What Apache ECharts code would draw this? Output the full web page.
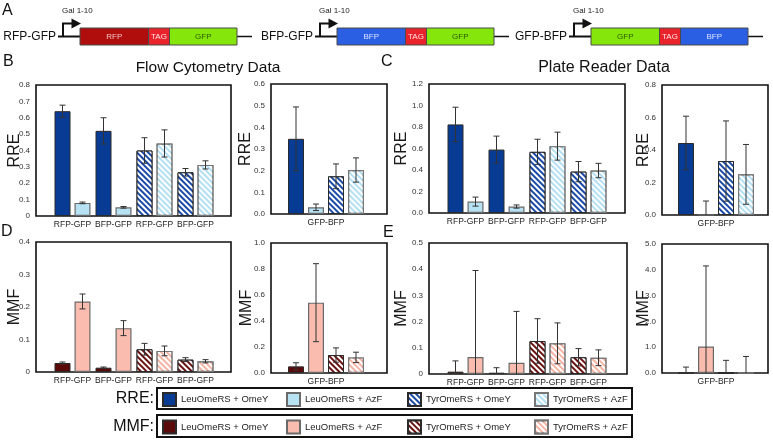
<!DOCTYPE html>
<html><head><meta charset="utf-8">
<script src="https://cdn.jsdelivr.net/npm/echarts@6/dist/echarts.min.js"></script>
<style>html,body{margin:0;padding:0;background:#fff}#c{width:773px;height:440px}</style>
</head><body><div id="c"></div>
<script>
// ---------- categories / names ----------
const groupCats = ['RFP-GFP', 'BFP-GFP', 'RFP-GFP', 'BFP-GFP'];
const singleCats = ['GFP-BFP'];
const seriesNames = ['LeuOmeRS + OmeY', 'LeuOmeRS + AzF', 'TyrOmeRS + OmeY', 'TyrOmeRS + AzF'];

// ---------- data: rows = series, cols = [RFP-GFP, BFP-GFP] ----------
const flowRreVal = [[0.64, 0.52], [0.08, 0.053], [0.40, 0.267], [0.443, 0.312]];
const flowRreErr = [[0.037, 0.08], [0.005, 0.005], [0.078, 0.023], [0.083, 0.025]];
const flowRreGBVal = [0.347, 0.031, 0.174, 0.203];
const flowRreGBErr = [0.147, 0.015, 0.057, 0.056];

const plateRreVal = [[0.824, 0.59], [0.106, 0.06], [0.569, 0.385], [0.622, 0.395]];
const plateRreErr = [[0.16, 0.125], [0.042, 0.015], [0.117, 0.094], [0.13, 0.067]];
const plateRreGBVal = [0.443, 0.0, 0.332, 0.25];
const plateRreGBErr = [0.165, 0.086, 0.247, 0.184];

const flowMmfVal = [[0.0277, 0.0133], [0.217, 0.135], [0.07, 0.038], [0.065, 0.033]];
const flowMmfErr = [[0.003, 0.002], [0.023, 0.023], [0.018, 0.006], [0.015, 0.005]];
const flowMmfGBVal = [0.051, 0.541, 0.138, 0.12];
const flowMmfGBErr = [0.028, 0.3, 0.055, 0.04];

const plateMmfVal = [[0.009, 0.005], [0.065, 0.043], [0.126, 0.064], [0.117, 0.062]];
const plateMmfErr = [[0.041, 0.019], [0.33, 0.196], [0.085, 0.033], [0.078, 0.03]];
const plateMmfGBVal = [0.0, 1.03, 0.0, 0.0];
const plateMmfGBErr = [0.23, 3.12, 0.49, 0.64];

// axis [max, interval]
const flowRreAxis = [0.8, 0.1], flowRreGBAxis = [0.6, 0.1];
const plateRreAxis = [1.2, 0.2], plateRreGBAxis = [0.8, 0.2];
const flowMmfAxis = [0.4, 0.1], flowMmfGBAxis = [1.0, 0.2];
const plateMmfAxis = [0.5, 0.1], plateMmfGBAxis = [5, 1];

// ---------- styles ----------
const FONT = 'Liberation Sans, Arial, sans-serif';
const hatch = { symbol: 'rect', symbolSize: 1, dashArrayX: [1, 0], dashArrayY: [2, 1.6], rotation: Math.PI / 4, color: '#ffffff' };
const styles = {
  rre: [
    { color: '#083b93', borderColor: '#2a2a2a', borderWidth: 1 },
    { color: '#b6e2f3', borderColor: '#6a6a6a', borderWidth: 1.2 },
    { color: '#1a4aa6', borderColor: '#2a2a2a', borderWidth: 1, decal: hatch },
    { color: '#b3e0f3', borderColor: '#777', borderWidth: 1.2, decal: hatch }
  ],
  mmf: [
    { color: '#5b0a0a', borderColor: '#2a2a2a', borderWidth: 1 },
    { color: '#f9bcae', borderColor: '#6a6a6a', borderWidth: 1.2 },
    { color: '#6a1212', borderColor: '#2a2a2a', borderWidth: 1, decal: hatch },
    { color: '#f6b4a4', borderColor: '#777', borderWidth: 1.2, decal: hatch }
  ]
};

// ---------- panel layout ----------
const panels = [
  { frame: [36, 85, 195, 131], dataX: [52, 164], cats: groupCats, vals: flowRreVal, errs: flowRreErr, axis: flowRreAxis, plainZero: true, kind: 'rre', name: 'RRE', nameGap: 13 },
  { frame: [271, 84, 116, 130], dataX: [271, 110], cats: singleCats, vals: flowRreGBVal, errs: flowRreGBErr, axis: flowRreGBAxis, plainZero: false, kind: 'rre', name: 'RRE', nameGap: 17 },
  { frame: [429, 84, 196, 129], dataX: [445, 164], cats: groupCats, vals: plateRreVal, errs: plateRreErr, axis: plateRreAxis, plainZero: false, kind: 'rre', name: 'RRE', nameGap: 19 },
  { frame: [662, 85, 106, 130], dataX: [663, 106], cats: singleCats, vals: plateRreGBVal, errs: plateRreGBErr, axis: plateRreGBAxis, plainZero: false, kind: 'rre', name: 'RRE', nameGap: 10 },
  { frame: [36, 242, 195, 130], dataX: [52, 164], cats: groupCats, vals: flowMmfVal, errs: flowMmfErr, axis: flowMmfAxis, plainZero: true, kind: 'mmf', name: 'MMF', nameGap: 13 },
  { frame: [271, 243, 116, 130], dataX: [271, 110], cats: singleCats, vals: flowMmfGBVal, errs: flowMmfGBErr, axis: flowMmfGBAxis, plainZero: false, kind: 'mmf', name: 'MMF', nameGap: 16 },
  { frame: [429, 243, 198, 131], dataX: [445, 164], cats: groupCats, vals: plateMmfVal, errs: plateMmfErr, axis: plateMmfAxis, plainZero: true, kind: 'mmf', name: 'MMF', nameGap: 19 },
  { frame: [662, 244, 106, 129], dataX: [663, 106], cats: singleCats, vals: plateMmfGBVal, errs: plateMmfGBErr, axis: plateMmfGBAxis, plainZero: false, kind: 'mmf', name: 'MMF', nameGap: 10 }
];

const BAR_W = 16, BAR_GAP = 4;

const grid = [], xAxis = [], yAxis = [], series = [];

function renderErr(params, api) {
  const x = api.value(0), v = api.value(1), e = api.value(2), off = api.value(3);
  const top = api.coord([x, v + e]);
  const lo = v - e;
  const bot = api.coord([x, Math.max(0, lo)]);
  const cx = top[0] + off, cap = 3;
  const st = { stroke: '#333', lineWidth: 1 };
  const ch = [
    { type: 'line', shape: { x1: cx, y1: top[1], x2: cx, y2: bot[1] }, style: st },
    { type: 'line', shape: { x1: cx - cap, y1: top[1], x2: cx + cap, y2: top[1] }, style: st }
  ];
  if (lo > 0) ch.push({ type: 'line', shape: { x1: cx - cap, y1: bot[1], x2: cx + cap, y2: bot[1] }, style: st });
  return { type: 'group', children: ch };
}

panels.forEach((p, pi) => {
  const fg = 2 * pi, dg = 2 * pi + 1;
  const [fl, ft, fw, fh] = p.frame;
  grid.push({ left: fl, top: ft, width: fw, height: fh, show: true, borderColor: '#111', borderWidth: 1.6, backgroundColor: '#fff', outerBoundsMode: 'none', containLabel: false });
  grid.push({ left: p.dataX[0], top: ft, width: p.dataX[1], height: fh, show: false, outerBoundsMode: 'none', containLabel: false });
  xAxis.push({ gridIndex: fg, type: 'value', show: false, min: 0, max: 1 });
  yAxis.push({
    gridIndex: fg, type: 'value', min: 0, max: p.axis[0], interval: p.axis[1],
    axisLine: { show: false }, axisTick: { show: false }, splitLine: { show: false },
    axisLabel: { fontSize: 8, color: '#333', margin: 6, fontFamily: FONT,
      formatter: v => (p.plainZero && Math.abs(v) < 1e-9) ? '0' : v.toFixed(1) },
    name: p.name, nameLocation: 'middle', nameGap: p.nameGap, nameRotate: 90, nameMoveOverlap: false,
    nameTextStyle: { fontSize: 16, color: '#1a1a1a', fontFamily: FONT }
  });
  xAxis.push({
    gridIndex: dg, type: 'category', data: p.cats,
    axisLine: { show: false }, axisTick: { show: false },
    axisLabel: { fontSize: 8.5, color: '#222', margin: 4, interval: 0, fontFamily: FONT }
  });
  yAxis.push({ gridIndex: dg, type: 'value', min: 0, max: p.axis[0], show: false });

  const grouped = p.cats.length === 4;
  const nameOf = s => p.kind === 'mmf' ? seriesNames[s] + ' ' : seriesNames[s];
  const errData = [];
  for (let s = 0; s < 4; s++) {
    let data, stack;
    if (grouped) {
      data = [null, null, null, null];
      const base = s >= 2 ? 2 : 0;
      data[base] = p.vals[s][0];
      data[base + 1] = p.vals[s][1];
      stack = (s % 2 === 0 ? 'dark' : 'light') + pi;
      const col = s % 2;
      const off = (col - 0.5) * (BAR_W + BAR_GAP);
      errData.push([base, p.vals[s][0], p.errs[s][0], off]);
      errData.push([base + 1, p.vals[s][1], p.errs[s][1], off]);
    } else {
      data = [p.vals[s]];
      const off = (s - 1.5) * (BAR_W + BAR_GAP);
      errData.push([0, p.vals[s], p.errs[s], off]);
    }
    const ser = {
      type: 'bar', name: nameOf(s), xAxisIndex: dg, yAxisIndex: dg, data,
      barWidth: BAR_W, barGap: '25%', itemStyle: Object.assign({}, styles[p.kind][s]),
      silent: true, z: 2
    };
    if (stack) ser.stack = stack;
    series.push(ser);
  }
  series.push({
    type: 'custom', xAxisIndex: dg, yAxisIndex: dg, data: errData, renderItem: renderErr,
    encode: { x: 0, y: 1 }, z: 5, silent: true, clip: false
  });
});

// ---------- panel A: constructs ----------
const constructs = [
  { label: 'RFP-GFP', parts: ['RFP', 'TAG', 'GFP'], left: 80 },
  { label: 'BFP-GFP', parts: ['BFP', 'TAG', 'GFP'], left: 337 },
  { label: 'GFP-BFP', parts: ['GFP', 'TAG', 'BFP'], left: 591 }
];
const partW = [68.5, 21, 67.5];
const partColor = { RFP: '#b00d0d', TAG: '#e8232b', GFP: '#84e60a', BFP: '#2b5fe3' };
const partText = { RFP: '#f4c0c0', TAG: '#ffe4e4', GFP: '#2d5a00', BFP: '#dbe3ff' };

const graphic = [];
const cy = 36.5;
constructs.forEach(c => {
  const L = c.left;
  graphic.push({ type: 'text', x: L - 24, y: cy, style: { text: c.label, fill: '#111', font: '12px ' + FONT, align: 'right', verticalAlign: 'middle' } });
  graphic.push({ type: 'line', shape: { x1: L - 22, y1: cy, x2: L, y2: cy }, style: { stroke: '#111', lineWidth: 2 } });
  graphic.push({ type: 'polyline', shape: { points: [[L - 17, cy], [L - 17, 23.5], [L - 8, 23.5]] }, style: { stroke: '#111', lineWidth: 2, fill: null } });
  graphic.push({ type: 'polygon', shape: { points: [[L - 8.5, 18.5], [L + 1, 23.5], [L - 8.5, 28.5]] }, style: { fill: '#111' } });
  graphic.push({ type: 'text', x: L - 18, y: 10.5, style: { text: 'Gal 1-10', fill: '#222', font: '8px ' + FONT, align: 'left', verticalAlign: 'middle' } });
  let x = L;
  c.parts.forEach((pt, i) => {
    graphic.push({ type: 'rect', shape: { x: x, y: 28, width: partW[i], height: 17 }, style: { fill: partColor[pt], stroke: '#4a4a4a', lineWidth: 1 }, z: 1 });
    graphic.push({ type: 'text', x: x + partW[i] / 2, y: 36.8, style: { text: pt, fill: partText[pt], font: '8px ' + FONT, align: 'center', verticalAlign: 'middle' }, z: 2 });
    x += partW[i];
  });
  graphic.push({ type: 'line', shape: { x1: x, y1: cy, x2: x + 15, y2: cy }, style: { stroke: '#111', lineWidth: 1.5 } });
});

const letters = [['A', 2, 11], ['B', 3, 62], ['C', 381, 62], ['D', 1, 231.5], ['E', 383, 233]];
letters.forEach(l => graphic.push({ type: 'text', x: l[1], y: l[2], style: { text: l[0], fill: '#111', font: '16px ' + FONT, align: 'left', verticalAlign: 'middle' } }));
graphic.push({ type: 'text', x: 208, y: 68, style: { text: 'Flow Cytometry Data', fill: '#111', font: '15.5px ' + FONT, align: 'center', verticalAlign: 'middle' } });
graphic.push({ type: 'text', x: 604, y: 68, style: { text: 'Plate Reader Data', fill: '#111', font: '16px ' + FONT, align: 'center', verticalAlign: 'middle' } });
graphic.push({ type: 'text', x: 154, y: 399, style: { text: 'RRE:', fill: '#111', font: '16px ' + FONT, align: 'right', verticalAlign: 'middle' } });
graphic.push({ type: 'text', x: 154, y: 426.5, style: { text: 'MMF:', fill: '#111', font: '16px ' + FONT, align: 'right', verticalAlign: 'middle' } });

// legend frames (layout only)
graphic.push({ type: 'rect', shape: { x: 157, y: 388, width: 475, height: 21 }, style: { fill: null, stroke: '#111', lineWidth: 2 } });
graphic.push({ type: 'rect', shape: { x: 157, y: 415, width: 475, height: 22 }, style: { fill: null, stroke: '#111', lineWidth: 2 } });

// one legend component per item so the items sit at fixed slots
const legendSlots = [162, 286, 407, 534];
const legend = [];
['rre', 'mmf'].forEach((kind, ki) => {
  seriesNames.forEach((n, i) => {
    legend.push({
      show: true, left: legendSlots[i], top: ki === 0 ? 392 : 419.5, orient: 'horizontal', icon: 'rect',
      itemWidth: 13, itemHeight: 13, itemGap: 5, padding: 0, selectedMode: false,
      textStyle: { fontSize: 9.5, color: '#222', fontFamily: FONT },
      formatter: t => t.trim(),
      data: [kind === 'mmf' ? n + ' ' : n]
    });
  });
});

const chart = echarts.init(document.getElementById('c'), null, { renderer: 'canvas' });
chart.setOption({
  animation: false,
  backgroundColor: '#fff',
  textStyle: { fontFamily: FONT },
  grid, xAxis, yAxis, series, legend, graphic
});
</script></body></html>
